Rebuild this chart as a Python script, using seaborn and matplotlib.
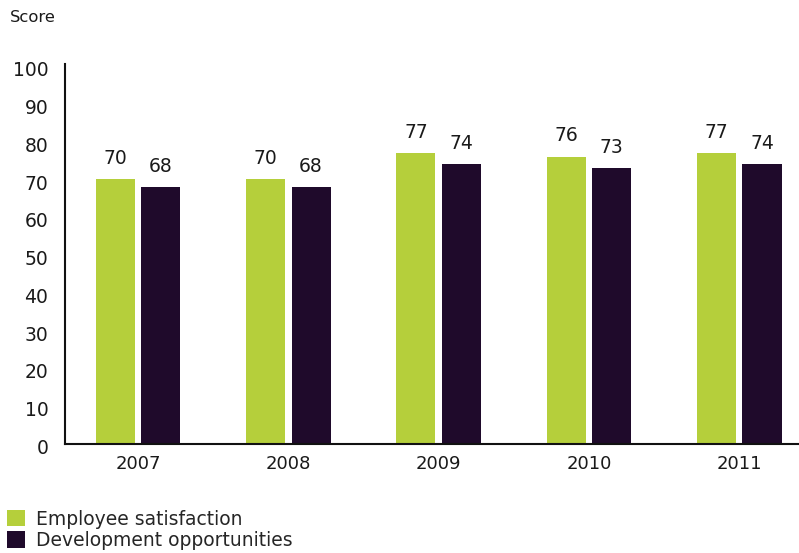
import matplotlib
matplotlib.use("Agg")
import matplotlib.pyplot as plt
import matplotlib.transforms as mtransforms
import seaborn as sns
import pandas as pd
from matplotlib.patches import Patch

years = ["2007", "2008", "2009", "2010", "2011"]
employee_satisfaction = [70, 70, 77, 76, 77]
development_opportunities = [68, 68, 74, 73, 74]
series_names = ["Employee satisfaction", "Development opportunities"]
colors = ["#b5cf3b", "#1f0a2b"]

df = pd.DataFrame({
    "Year": years * 2,
    "Score": employee_satisfaction + development_opportunities,
    "Series": [series_names[0]] * len(years) + [series_names[1]] * len(years),
})

sns.set_style("white")
plt.rcParams["font.family"] = ["DejaVu Sans"]

fig = plt.figure(figsize=(7.99, 5.53), dpi=100)
ax = fig.add_axes([65 / 799, 1 - 443.5 / 553, (150.3 * 4.972) / 799, 379.5 / 553])

sns.barplot(data=df, x="Year", y="Score", hue="Series", order=years,
            hue_order=series_names, palette=colors, width=0.605, gap=0.14,
            saturation=1, linewidth=0, ax=ax, legend=False)

for cont in ax.containers:
    ax.bar_label(cont, fmt="%d", padding=8, fontsize=13.5, color="#1a1a1a")

ax.set_ylim(0, 100.5)
ax.set_xlim(-0.486, 4.486)
ax.set_yticks(range(0, 101, 10))
ax.tick_params(axis="y", length=0, pad=12, labelsize=13.5, colors="#1a1a1a")
ax.tick_params(axis="x", length=0, pad=8, labelsize=13, colors="#1a1a1a")
offset = mtransforms.ScaledTranslation(0, -3 / 100, fig.dpi_scale_trans)
for lbl in ax.get_yticklabels():
    lbl.set_transform(lbl.get_transform() + offset)
ax.set_xlabel("")
ax.set_ylabel("")
for s in ["top", "right"]:
    ax.spines[s].set_visible(False)
for s in ["left", "bottom"]:
    ax.spines[s].set_color("#111111")
    ax.spines[s].set_linewidth(1.5)

fig.text(10 / 799, 1 - 18 / 553, "Score", fontsize=11.8, color="#1a1a1a", va="center", ha="left")

handles = [Patch(facecolor=c, edgecolor="none") for c in colors]
fig.legend(handles, series_names, loc="lower left", bbox_to_anchor=(0.0, -0.008),
           frameon=False, fontsize=13.5, handlelength=0.95, handleheight=0.95,
           handletextpad=0.55, labelspacing=0.12, borderaxespad=0.1,
           borderpad=0.3)

fig.savefig("out.png", dpi=100)
